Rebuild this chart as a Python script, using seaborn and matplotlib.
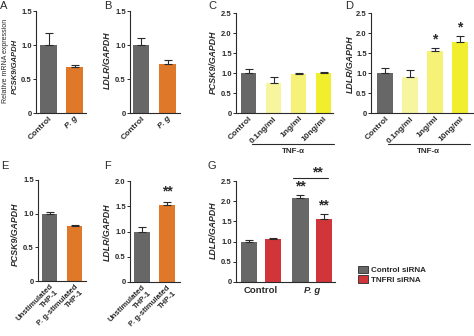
import numpy as np
import pandas as pd
import matplotlib
matplotlib.use("Agg")
import matplotlib.pyplot as plt
import seaborn as sns
from matplotlib.patches import Patch

# ---------------- data ----------------
a_cats = ["Control", "P. g"]
a_vals = [1.00, 0.67]
a_err = [0.17, 0.03]

b_cats = ["Control", "P. g"]
b_vals = [1.00, 0.72]
b_err = [0.10, 0.06]

c_cats = ["Control", "0.1ng/ml", "1ng/ml", "10ng/ml"]
c_vals = [1.00, 0.75, 0.97, 1.00]
c_err = [0.09, 0.14, 0.03, 0.03]

d_cats = ["Control", "0.1ng/ml", "1ng/ml", "10ng/ml"]
d_vals = [1.00, 0.90, 1.56, 1.78]
d_err = [0.12, 0.17, 0.07, 0.14]

e_cats = ["Unstimulated\nTHP-1", "P. g-stimulated\nTHP-1"]
e_vals = [1.00, 0.81]
e_err = [0.03, 0.02]

f_cats = ["Unstimulated\nTHP-1", "P. g-stimulated\nTHP-1"]
f_vals = [1.00, 1.52]
f_err = [0.09, 0.07]

g_groups = ["Control", "P. g"]
g_series = ["Control siRNA", "TNFRI siRNA"]
g_ctrl_vals = [1.00, 2.08]
g_ctrl_err = [0.05, 0.08]
g_tnfr_vals = [1.07, 1.57]
g_tnfr_err = [0.02, 0.11]

# ---------------- style ----------------
GRAY = "#676767"
ORANGE = "#e0782a"
Y1, Y2, Y3 = "#f7f59e", "#f5f277", "#f1ee2e"
RED = "#d1353a"
INK = "#2a2a2a"

sns.set_theme(style="ticks")
plt.rcParams["font.family"] = ["Liberation Sans", "DejaVu Sans"]
plt.rcParams["font.weight"] = "bold"

W, H = 474, 336
fig = plt.figure(figsize=(W / 100, H / 100), dpi=100)
fig.patch.set_facecolor("white")


def px_axes(x0, x1, y0, y1):
    return fig.add_axes([x0 / W, 1 - y1 / H, (x1 - x0) / W, (y1 - y0) / H])


def style_axes(ax, xlim, ymax, step, ylabel, lab_x, lab_yc, x0, x1, y0, y1,
               lab_size=6.3):
    ax.set_xlim(*xlim)
    ax.set_ylim(0, ymax)
    ticks = np.round(np.arange(0, ymax + 1e-9, step), 2)
    ax.set_yticks(ticks)
    ax.set_yticklabels(["0" if t == 0 else f"{t:.1f}" for t in ticks])
    sns.despine(ax=ax)
    for s in ["left", "bottom"]:
        ax.spines[s].set_linewidth(0.8)
        ax.spines[s].set_color(INK)
    ax.tick_params(axis="y", length=2, width=0.7, pad=1, labelsize=5.5,
                   colors=INK)
    ax.tick_params(axis="x", length=0, pad=1.5, labelsize=6.0, colors=INK)
    ax.set_xlabel("")
    ax.set_ylabel(ylabel, fontsize=lab_size, fontstyle="italic",
                  fontweight="bold", color=INK, va="center")
    ax.yaxis.set_label_coords((lab_x - x0) / (x1 - x0),
                              (y1 - lab_yc) / (y1 - y0))
    ax.set_facecolor("none")


def bar_panel(box, cats, vals, errs, colors, width, xlim, ymax, step,
              ylabel, lab_x, lab_yc, lab_size=6.3, xsize=6.0):
    x0, x1, y0, y1 = box
    ax = px_axes(x0, x1, y0, y1)
    df = pd.DataFrame({"cond": cats, "val": vals})
    sns.barplot(data=df, x="cond", y="val", hue="cond",
                palette=dict(zip(cats, colors)), width=width, ax=ax,
                legend=False, errorbar=None, saturation=1, linewidth=0)
    xs = np.arange(len(cats))
    ax.errorbar(xs, vals, yerr=[np.zeros(len(vals)), errs], fmt="none",
                ecolor=INK, elinewidth=0.8, capsize=2.6, capthick=0.8)
    style_axes(ax, xlim, ymax, step, ylabel, lab_x, lab_yc, x0, x1, y0, y1,
               lab_size)
    for lab in ax.get_xticklabels():
        lab.set_rotation(45)
        lab.set_ha("right")
        lab.set_rotation_mode("anchor")
        lab.set_fontweight("bold")
        lab.set_fontsize(xsize)
        if lab.get_text() == "P. g":
            lab.set_fontstyle("italic")
    return ax


# Panel A
axA = bar_panel((36, 86, 11, 113), a_cats, a_vals, a_err, [GRAY, ORANGE],
                0.65, (-0.48, 1.44), 1.5, 0.5, "PCSK9/GAPDH", 15, 66,
                lab_size=5.5)
fig.text(6 / W, 1 - 61 / H, "Relative mRNA expression", rotation=90,
         fontsize=5.0, fontweight="normal", ha="center", va="center",
         color=INK)

# Panel B
axB = bar_panel((130, 180, 11, 113), b_cats, b_vals, b_err, [GRAY, ORANGE],
                0.62, (-0.42, 1.47), 1.5, 0.5, "LDLR/GAPDH", 107, 60)

# Panel C
axC = bar_panel((236, 333, 13, 113), c_cats, c_vals, c_err,
                [GRAY, Y1, Y2, Y3], 0.62, (-0.5, 3.38), 2.5, 0.5,
                "PCSK9/GAPDH", 213, 62)
trC = axC.get_xaxis_transform()
axC.plot([0.14, 3.42], [-0.31, -0.31], color=INK, lw=0.8, transform=trC,
         clip_on=False)
axC.text(1.8, -0.35, "TNF-α", transform=trC, ha="center", va="top",
         fontsize=5.8, fontweight="bold", color=INK)

# Panel D
axD = bar_panel((371, 473, 13, 113), d_cats, d_vals, d_err,
                [GRAY, Y1, Y2, Y3], 0.64, (-0.56, 3.52), 2.5, 0.5,
                "LDLR/GAPDH", 350, 64)
trD = axD.get_xaxis_transform()
axD.plot([0.12, 3.4], [-0.31, -0.31], color=INK, lw=0.8, transform=trD,
         clip_on=False)
axD.text(1.72, -0.35, "TNF-α", transform=trD, ha="center", va="top",
         fontsize=5.8, fontweight="bold", color=INK)
for i in [2, 3]:
    axD.text(i, d_vals[i] + d_err[i] + 0.04, "*", ha="center", va="bottom",
             fontsize=10, fontweight="bold", color=INK)

# Panel E
axE = bar_panel((38, 86, 180, 281), e_cats, e_vals, e_err, [GRAY, ORANGE],
                0.62, (-0.46, 1.46), 1.5, 0.5, "PCSK9/GAPDH", 15, 234,
                xsize=5.6)

# Panel F
axF = bar_panel((130, 180, 181, 282), f_cats, f_vals, f_err, [GRAY, ORANGE],
                0.64, (-0.48, 1.52), 2.0, 0.5, "LDLR/GAPDH", 107, 232,
                xsize=5.6)
axF.text(1, f_vals[1] + f_err[1] + 0.06, "**", ha="center", va="bottom",
         fontsize=10, fontweight="bold", color=INK)

# Panel G
gx0, gx1, gy0, gy1 = 236, 335, 181, 282
axG = px_axes(gx0, gx1, gy0, gy1)
dfg = pd.DataFrame({
    "group": g_groups * 2,
    "siRNA": [g_series[0]] * 2 + [g_series[1]] * 2,
    "val": g_ctrl_vals + g_tnfr_vals,
})
sns.barplot(data=dfg, x="group", y="val", hue="siRNA",
            palette=[GRAY, RED], width=0.92, gap=0.3, ax=axG,
            errorbar=None, saturation=1, linewidth=0)
gxs = np.arange(len(g_groups))
axG.errorbar(gxs - 0.23, g_ctrl_vals, yerr=[np.zeros(2), g_ctrl_err],
             fmt="none", ecolor=INK, elinewidth=0.8, capsize=2.6, capthick=0.8)
axG.errorbar(gxs + 0.23, g_tnfr_vals, yerr=[np.zeros(2), g_tnfr_err],
             fmt="none", ecolor=INK, elinewidth=0.8, capsize=2.6, capthick=0.8)
style_axes(axG, (-0.49, 1.45), 2.5, 0.5, "LDLR/GAPDH", 213, 230,
           gx0, gx1, gy0, gy1)
axG.tick_params(axis="x", labelsize=6.8, pad=3)
for lab in axG.get_xticklabels():
    lab.set_fontweight("bold")
    if lab.get_text() == "P. g":
        lab.set_fontstyle("italic")
axG.get_legend().remove()
axG.text(1 - 0.23, g_ctrl_vals[1] + g_ctrl_err[1] + 0.04, "**", ha="center",
         va="bottom", fontsize=10, fontweight="bold", color=INK)
axG.text(1 + 0.23, g_tnfr_vals[1] + g_tnfr_err[1] + 0.04, "**", ha="center",
         va="bottom", fontsize=10, fontweight="bold", color=INK)
axG.plot([0.63, 1.31], [2.57, 2.57], color=INK, lw=0.8, clip_on=False)
axG.text(1.1, 2.55, "**", ha="center", va="bottom", fontsize=10,
         fontweight="bold", color=INK, clip_on=False)

handles = [Patch(facecolor=GRAY, edgecolor=INK, linewidth=0.6),
           Patch(facecolor=RED, edgecolor=INK, linewidth=0.6)]
fig.legend(handles, g_series, loc="upper left",
           bbox_to_anchor=(352 / W, 1 - 260 / H), frameon=False,
           prop={"size": 5.8, "weight": "bold"}, handlelength=1.3,
           handleheight=1.1, handletextpad=0.4, labelspacing=0.15,
           borderpad=0.2)

# panel letters
for letter, (px, py) in {"A": (0, 1), "B": (104, 1), "C": (208, 1),
                         "D": (345, 1), "E": (1, 161), "F": (104, 161),
                         "G": (208, 161)}.items():
    fig.text(px / W, 1 - py / H, letter, fontsize=8, fontweight="normal",
             ha="left", va="top", color=INK)

fig.savefig("out.png", dpi=100, facecolor="white")
